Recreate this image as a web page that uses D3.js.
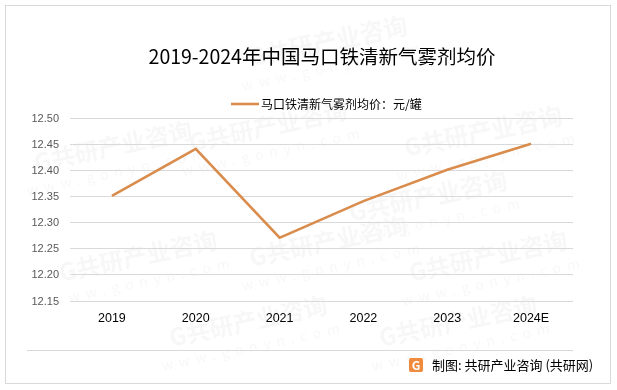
<!DOCTYPE html>
<html>
<head>
<meta charset="utf-8">
<script src="https://cdn.jsdelivr.net/npm/d3@7"></script>
<style>
  body { margin: 0; background: #fff; }
  text { font-family: "Noto Sans CJK SC", "Noto Sans", sans-serif; }
</style>
</head>
<body>
<script>
const width = 617;
const height = 390;

// chart data
const years = ['2019', '2020', '2021', '2022', '2023', '2024E'];
const prices = [12.35, 12.44, 12.27, 12.34, 12.40, 12.45];
const yTicks = [12.15, 12.20, 12.25, 12.30, 12.35, 12.40, 12.45, 12.50];
const title = '2019-2024年中国马口铁清新气雾剂均价';
const seriesName = '马口铁清新气雾剂均价：元/罐';
const source = '制图: 共研产业咨询 (共研网)';

const lineColor = '#d98c4c';

const svg = d3.select('body').append('svg').attr('width', width).attr('height', height);

svg.append('rect').attr('x', 5.5).attr('y', 5.5).attr('width', 605).attr('height', 378)
  .attr('fill', '#fff').attr('stroke', '#d9d9d9');

// faint watermarks, kept inside the frame
const wm = svg.append('g').attr('fill', '#000').attr('opacity', 0.035);
[[330, 50], [485, 140], [115, 155], [270, 135], [430, 205], [140, 265], [330, 250], [490, 265], [250, 330], [460, 330]]
  .forEach(([x, y]) => {
    const g = wm.append('g').attr('transform', `translate(${x},${y}) rotate(-12)`);
    g.append('text').attr('font-size', 24).attr('font-weight', 'bold').attr('text-anchor', 'middle').text('G共研产业咨询');
    g.append('text').attr('y', 22).attr('font-size', 14).attr('letter-spacing', 6).attr('text-anchor', 'middle').text('www.gonyn.com');
  });

const x = d3.scaleBand().domain(years).range([70, 573]);
const y = d3.scaleLinear().domain([12.15, 12.50]).range([300.5, 117.5]);

// grid
svg.append('g').selectAll('line').data(yTicks).enter().append('line')
  .attr('x1', 70).attr('x2', 573)
  .attr('y1', d => Math.round(y(d)) + 0.5).attr('y2', d => Math.round(y(d)) + 0.5)
  .attr('stroke', '#d9d9d9').attr('stroke-width', 1);

// y axis
const yAxis = svg.append('g').attr('transform', 'translate(59,0)')
  .call(d3.axisLeft(y).tickValues(yTicks).tickFormat(d3.format('.2f')).tickSize(0).tickPadding(0));
yAxis.select('.domain').remove();
yAxis.selectAll('text').attr('font-size', 11).attr('fill', '#595959')
  .style('font-family', '"Liberation Sans", "Noto Sans", sans-serif');

// x axis
const xAxis = svg.append('g').attr('transform', 'translate(0,313)')
  .call(d3.axisBottom(x).tickSize(0).tickPadding(0));
xAxis.select('.domain').remove();
xAxis.selectAll('text').attr('font-size', 12.5).attr('fill', '#000')
  .style('font-family', '"Liberation Sans", "Noto Sans", sans-serif');

// series line
const line = d3.line().x((d, i) => x(years[i]) + x.bandwidth() / 2).y(d => y(d));
svg.append('path').datum(prices).attr('d', line)
  .attr('fill', 'none').attr('stroke', lineColor).attr('stroke-width', 2.6)
  .attr('stroke-linejoin', 'miter');

// title
svg.append('text').attr('x', 322).attr('y', 64).attr('text-anchor', 'middle')
  .attr('font-size', 19.5).attr('fill', '#000').text(title);

// legend
svg.append('line').attr('x1', 231).attr('x2', 259).attr('y1', 104).attr('y2', 104)
  .attr('stroke', lineColor).attr('stroke-width', 2.6);
svg.append('text').attr('x', 261).attr('y', 108.5).attr('font-size', 12).attr('fill', '#000').text(seriesName);

// footer
svg.append('line').attr('x1', 27).attr('x2', 573).attr('y1', 350.5).attr('y2', 350.5)
  .attr('stroke', '#d9d9d9');
const logo = svg.append('g').attr('transform', 'translate(409,358)');
logo.append('rect').attr('width', 14).attr('height', 14).attr('rx', 2).attr('fill', '#f08a3c');
logo.append('text').attr('x', 7).attr('y', 11.5).attr('text-anchor', 'middle')
  .attr('font-size', 12).attr('font-weight', 'bold').attr('fill', '#fff').text('G');
svg.append('text').attr('x', 432).attr('y', 370).attr('font-size', 13).attr('fill', '#000').text(source);
</script>
</body>
</html>
